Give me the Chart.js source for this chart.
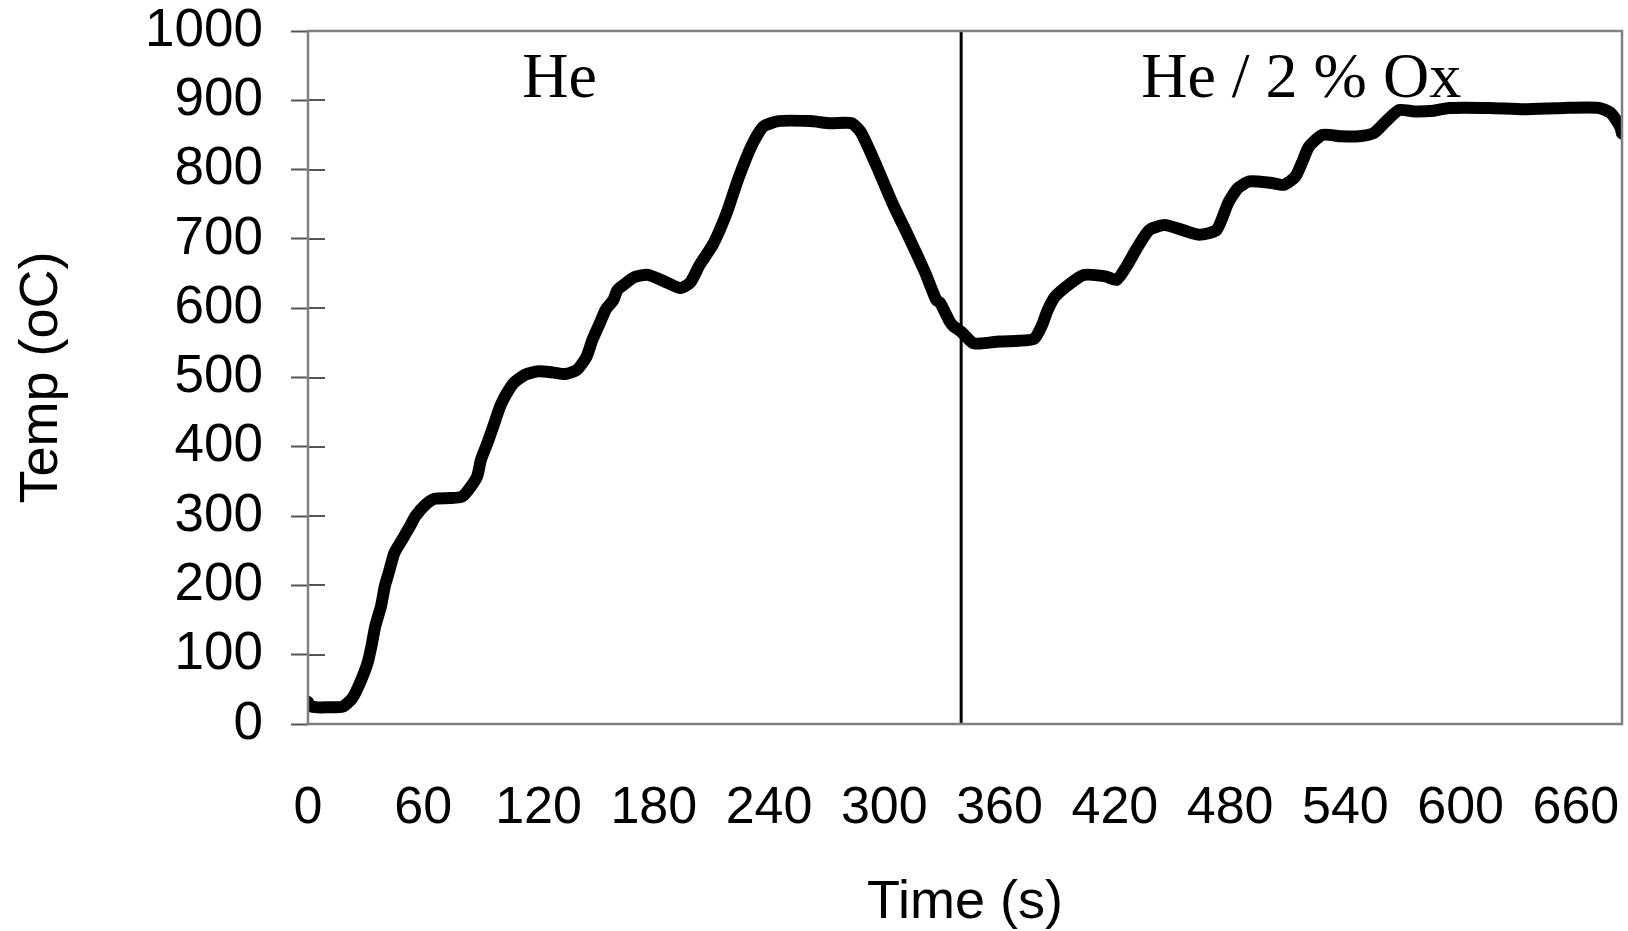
<!DOCTYPE html>
<html>
<head>
<meta charset="utf-8">
<title>Temp vs Time</title>
<script src="https://cdn.jsdelivr.net/npm/chart.js@4.4.1/dist/chart.umd.min.js"></script>
<style>
  html, body { margin: 0; padding: 0; background: #fff; }
  #chart { display: block; }
</style>
</head>
<body>
<canvas id="chart" width="1628" height="931"></canvas>
<script>
// Sample temperature trace (s, oC)
const timeSec = [
  0, 1, 5, 10, 18, 23, 27, 31, 33, 35, 38, 40, 42, 45, 49, 53, 56, 61, 66, 74,
  80, 83, 88, 90, 94, 97, 100, 103, 107, 113, 120, 128, 134, 140, 145, 148, 152, 155, 159, 161,
  164, 170, 177, 186, 194, 199, 204, 211, 218, 224, 231, 237, 245, 261, 272, 283, 288, 296, 304, 313,
  321, 327, 329, 334, 336, 340, 346, 350, 360, 370, 378, 382, 385, 389, 397, 404, 415, 421, 426, 432,
  438, 446, 455, 464, 473, 479, 484, 490, 501, 508, 514, 518, 521, 528, 538, 547, 555, 562, 568, 576,
  586, 594, 615, 633, 654, 672, 678, 683, 684
];
const tempC = [
  32, 26, 24, 24, 25, 37, 59, 88, 112, 141, 170, 199, 218, 247, 266, 285, 300, 316, 325, 326,
  328, 336, 357, 381, 410, 434, 458, 475, 492, 504, 509, 507, 505, 511, 530, 554, 579, 598, 612, 626,
  633, 645, 648, 638, 629, 637, 663, 693, 738, 787, 835, 862, 870, 870, 867, 867, 853, 805, 753, 701,
  653, 612, 608, 581, 574, 566, 550, 549, 552, 553, 556, 575, 597, 617, 636, 648, 646, 641, 660, 689,
  713, 720, 713, 706, 713, 752, 773, 783, 781, 778, 790, 814, 833, 850, 848, 848, 853, 872, 886, 884,
  885, 889, 889, 887, 889, 889, 882, 862, 852
];

// Gas switch from He to He / 2 % Ox
const switchTime = 340;

const timeTicks = [0, 60, 120, 180, 240, 300, 360, 420, 480, 540, 600, 660];
const tempTicks = [0, 100, 200, 300, 400, 500, 600, 700, 800, 900, 1000];
const timeMax = 684;

const phaseNames = ["He", "He / 2 % Ox"];
const phaseNameTimes = [131, 517];
const phaseNameTemp = 905;

const sans = "'Liberation Sans', Arial, sans-serif";
const serif = "'Liberation Serif', 'Times New Roman', serif";

// frame around the plot area plus the inner half of the y tick marks
const framePlugin = {
  id: "frame",
  afterDraw(chart) {
    const { ctx, chartArea: a, scales } = chart;
    ctx.save();
    ctx.strokeStyle = "#555";
    ctx.lineWidth = 2;
    scales.y.ticks.forEach(t => {
      const y = Math.round(scales.y.getPixelForValue(t.value));
      ctx.beginPath();
      ctx.moveTo(a.left, y);
      ctx.lineTo(a.left + 17, y);
      ctx.stroke();
    });
    ctx.strokeStyle = "#808080";
    ctx.lineWidth = 2.5;
    ctx.strokeRect(a.left, a.top, a.right - a.left, a.bottom - a.top);
    ctx.restore();
  }
};

// phase names above the curve
const phasePlugin = {
  id: "phases",
  afterDatasetsDraw(chart) {
    const { ctx, scales } = chart;
    ctx.save();
    ctx.font = "64px " + serif;
    ctx.fillStyle = "#000";
    ctx.textAlign = "center";
    ctx.textBaseline = "alphabetic";
    phaseNames.forEach((name, i) => {
      ctx.fillText(name, scales.x.getPixelForValue(phaseNameTimes[i]), scales.y.getPixelForValue(phaseNameTemp));
    });
    ctx.restore();
  }
};

const ctx = document.getElementById("chart").getContext("2d");

new Chart(ctx, {
  type: "line",
  data: {
    datasets: [
      {
        label: "Temp",
        data: timeSec.map((t, i) => ({ x: t, y: tempC[i] })),
        borderColor: "#000",
        borderWidth: 12,
        borderJoinStyle: "round",
        borderCapStyle: "round",
        tension: 0.2,
        pointRadius: 0
      },
      {
        label: "Switch",
        data: [{ x: switchTime, y: 0 }, { x: switchTime, y: 1000 }],
        borderColor: "#000",
        borderWidth: 3,
        pointRadius: 0
      }
    ]
  },
  options: {
    responsive: false,
    animation: false,
    layout: { padding: { top: 31, right: 6, left: 0, bottom: 0 } },
    plugins: {
      legend: { display: false },
      tooltip: { enabled: false }
    },
    scales: {
      x: {
        type: "linear",
        min: 0,
        max: timeMax,
        afterBuildTicks: s => { s.ticks = timeTicks.map(v => ({ value: v })); },
        afterFit: s => {
          s.height = 207;
          s.paddingLeft = 0;
          s.paddingRight = 0;
        },
        grid: { display: false, drawTicks: false },
        border: { display: false },
        ticks: {
          autoSkip: false,
          maxRotation: 0,
          padding: 53,
          color: "#000",
          font: { family: sans, size: 52 },
          callback: v => String(v)
        },
        title: {
          display: true,
          text: "Time (s)",
          color: "#000",
          font: { family: sans, size: 54 },
          padding: { top: 0, bottom: -5 }
        }
      },
      y: {
        min: 0,
        max: 1000,
        afterBuildTicks: s => { s.ticks = tempTicks.map(v => ({ value: v })); },
        afterFit: s => {
          s.width = 308;
          s.paddingTop = 0;
          s.paddingBottom = 0;
        },
        grid: {
          drawOnChartArea: false,
          drawTicks: true,
          tickLength: 17,
          tickColor: "#555",
          tickWidth: 2
        },
        border: { display: false },
        ticks: {
          autoSkip: false,
          padding: 28,
          color: "#000",
          font: { family: sans, size: 53 },
          callback: v => String(v)
        },
        title: {
          display: true,
          text: "Temp (oC)",
          color: "#000",
          font: { family: sans, size: 54 },
          padding: { top: 10, bottom: 0 }
        }
      }
    }
  },
  plugins: [framePlugin, phasePlugin]
});
</script>
</body>
</html>
